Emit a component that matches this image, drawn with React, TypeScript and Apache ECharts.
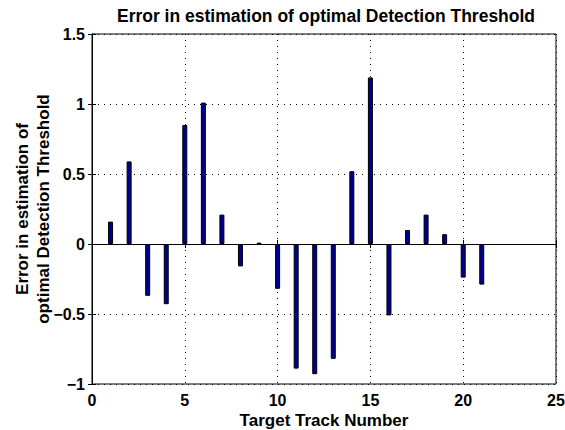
import React, { useEffect, useRef } from "react";
import * as echarts from "echarts";

const trackNumbers = [1, 2, 3, 4, 5, 6, 7, 8, 9, 10, 11, 12, 13, 14, 15, 16, 17, 18, 19, 20, 21];
const errors = [0.16, 0.59, -0.37, -0.43, 0.85, 1.01, 0.21, -0.16, 0.01, -0.32, -0.89, -0.93, -0.82, 0.52, 1.19, -0.51, 0.1, 0.21, 0.07, -0.24, -0.29];
const xTicks = { min: 0, max: 25, interval: 5 };
const yTicks = { min: -1, max: 1.5, interval: 0.5 };
const titleText = "Error in estimation of optimal Detection Threshold";
const xLabel = "Target Track Number";
const yLabel = "Error in estimation of\noptimal Detection Threshold";

const FONT = "'Liberation Sans', Arial, Helvetica, sans-serif";
const fmt = (v: number) => String(v).replace("-", "\u2212");

export default function App() {
  const ref = useRef<HTMLDivElement>(null);
  useEffect(() => {
    if (!ref.current) return;
    const chart = echarts.init(ref.current, undefined, { renderer: "svg" });
    const dotted = { type: [1, 5] as any, color: "#000", width: 1 };
    const axisLine = { show: true, lineStyle: { color: "#000", width: 1 } };
    const tick = { show: true, inside: true, length: 4, lineStyle: { color: "#000" } };
    chart.setOption({
      animation: false,
      backgroundColor: "#fff",
      title: {
        text: titleText,
        left: 321,
        textAlign: "center",
        top: 2,
        textStyle: { fontFamily: FONT, fontWeight: "bold", fontSize: 17.5, color: "#000" },
      },
      grid: {
        left: 92, right: 9, top: 34, bottom: 46,
        outerBoundsMode: "none", containLabel: false,
        show: true, borderColor: "#000", borderWidth: 1, backgroundColor: "#fff",
      },
      xAxis: [
        {
          type: "value",
          min: xTicks.min,
          max: xTicks.max,
          interval: xTicks.interval,
          position: "bottom",
          axisLine,
          axisTick: tick,
          splitLine: { show: true, lineStyle: dotted },
          axisLabel: { fontFamily: FONT, fontWeight: "bold", fontSize: 16, color: "#000", margin: 8, formatter: fmt },
          name: xLabel,
          nameLocation: "middle",
          nameGap: 28,
          nameMoveOverlap: false,
          nameTextStyle: { fontFamily: FONT, fontWeight: "bold", fontSize: 17, color: "#000" },
        },
        {
          type: "value",
          min: xTicks.min,
          max: xTicks.max,
          interval: xTicks.interval,
          position: "top",
          axisLine,
          axisTick: tick,
          splitLine: { show: false },
          axisLabel: { show: false },
        },
      ],
      yAxis: [
        {
          type: "value",
          min: yTicks.min,
          max: yTicks.max,
          interval: yTicks.interval,
          position: "left",
          axisLine,
          axisTick: tick,
          splitLine: { show: true, lineStyle: dotted },
          axisLabel: { fontFamily: FONT, fontWeight: "bold", fontSize: 16, color: "#000", margin: 7, formatter: fmt },
          name: yLabel,
          nameLocation: "middle",
          nameGap: 38,
          nameRotate: 90,
          nameMoveOverlap: false,
          nameTextStyle: { fontFamily: FONT, fontWeight: "bold", fontSize: 17, color: "#000", lineHeight: 21 },
        },
        {
          type: "value",
          min: yTicks.min,
          max: yTicks.max,
          interval: yTicks.interval,
          position: "right",
          axisLine,
          axisTick: tick,
          splitLine: { show: false },
          axisLabel: { show: false },
        },
      ],
      series: [
        {
          type: "bar",
          xAxisIndex: 0,
          yAxisIndex: 0,
          barWidth: 5,
          data: trackNumbers.map((t, i) => [t, errors[i]]),
          itemStyle: { color: "#00008F", borderColor: "#000", borderWidth: 1 },
          markLine: {
            silent: true,
            symbol: "none",
            label: { show: false },
            lineStyle: { color: "#000", type: "solid", width: 1 },
            data: [{ yAxis: 0 }],
          },
        },
      ],
    });
    return () => chart.dispose();
  }, []);
  return <div ref={ref} style={{ position: "fixed", left: 0, top: 0, width: 565, height: 430 }} />;
}
